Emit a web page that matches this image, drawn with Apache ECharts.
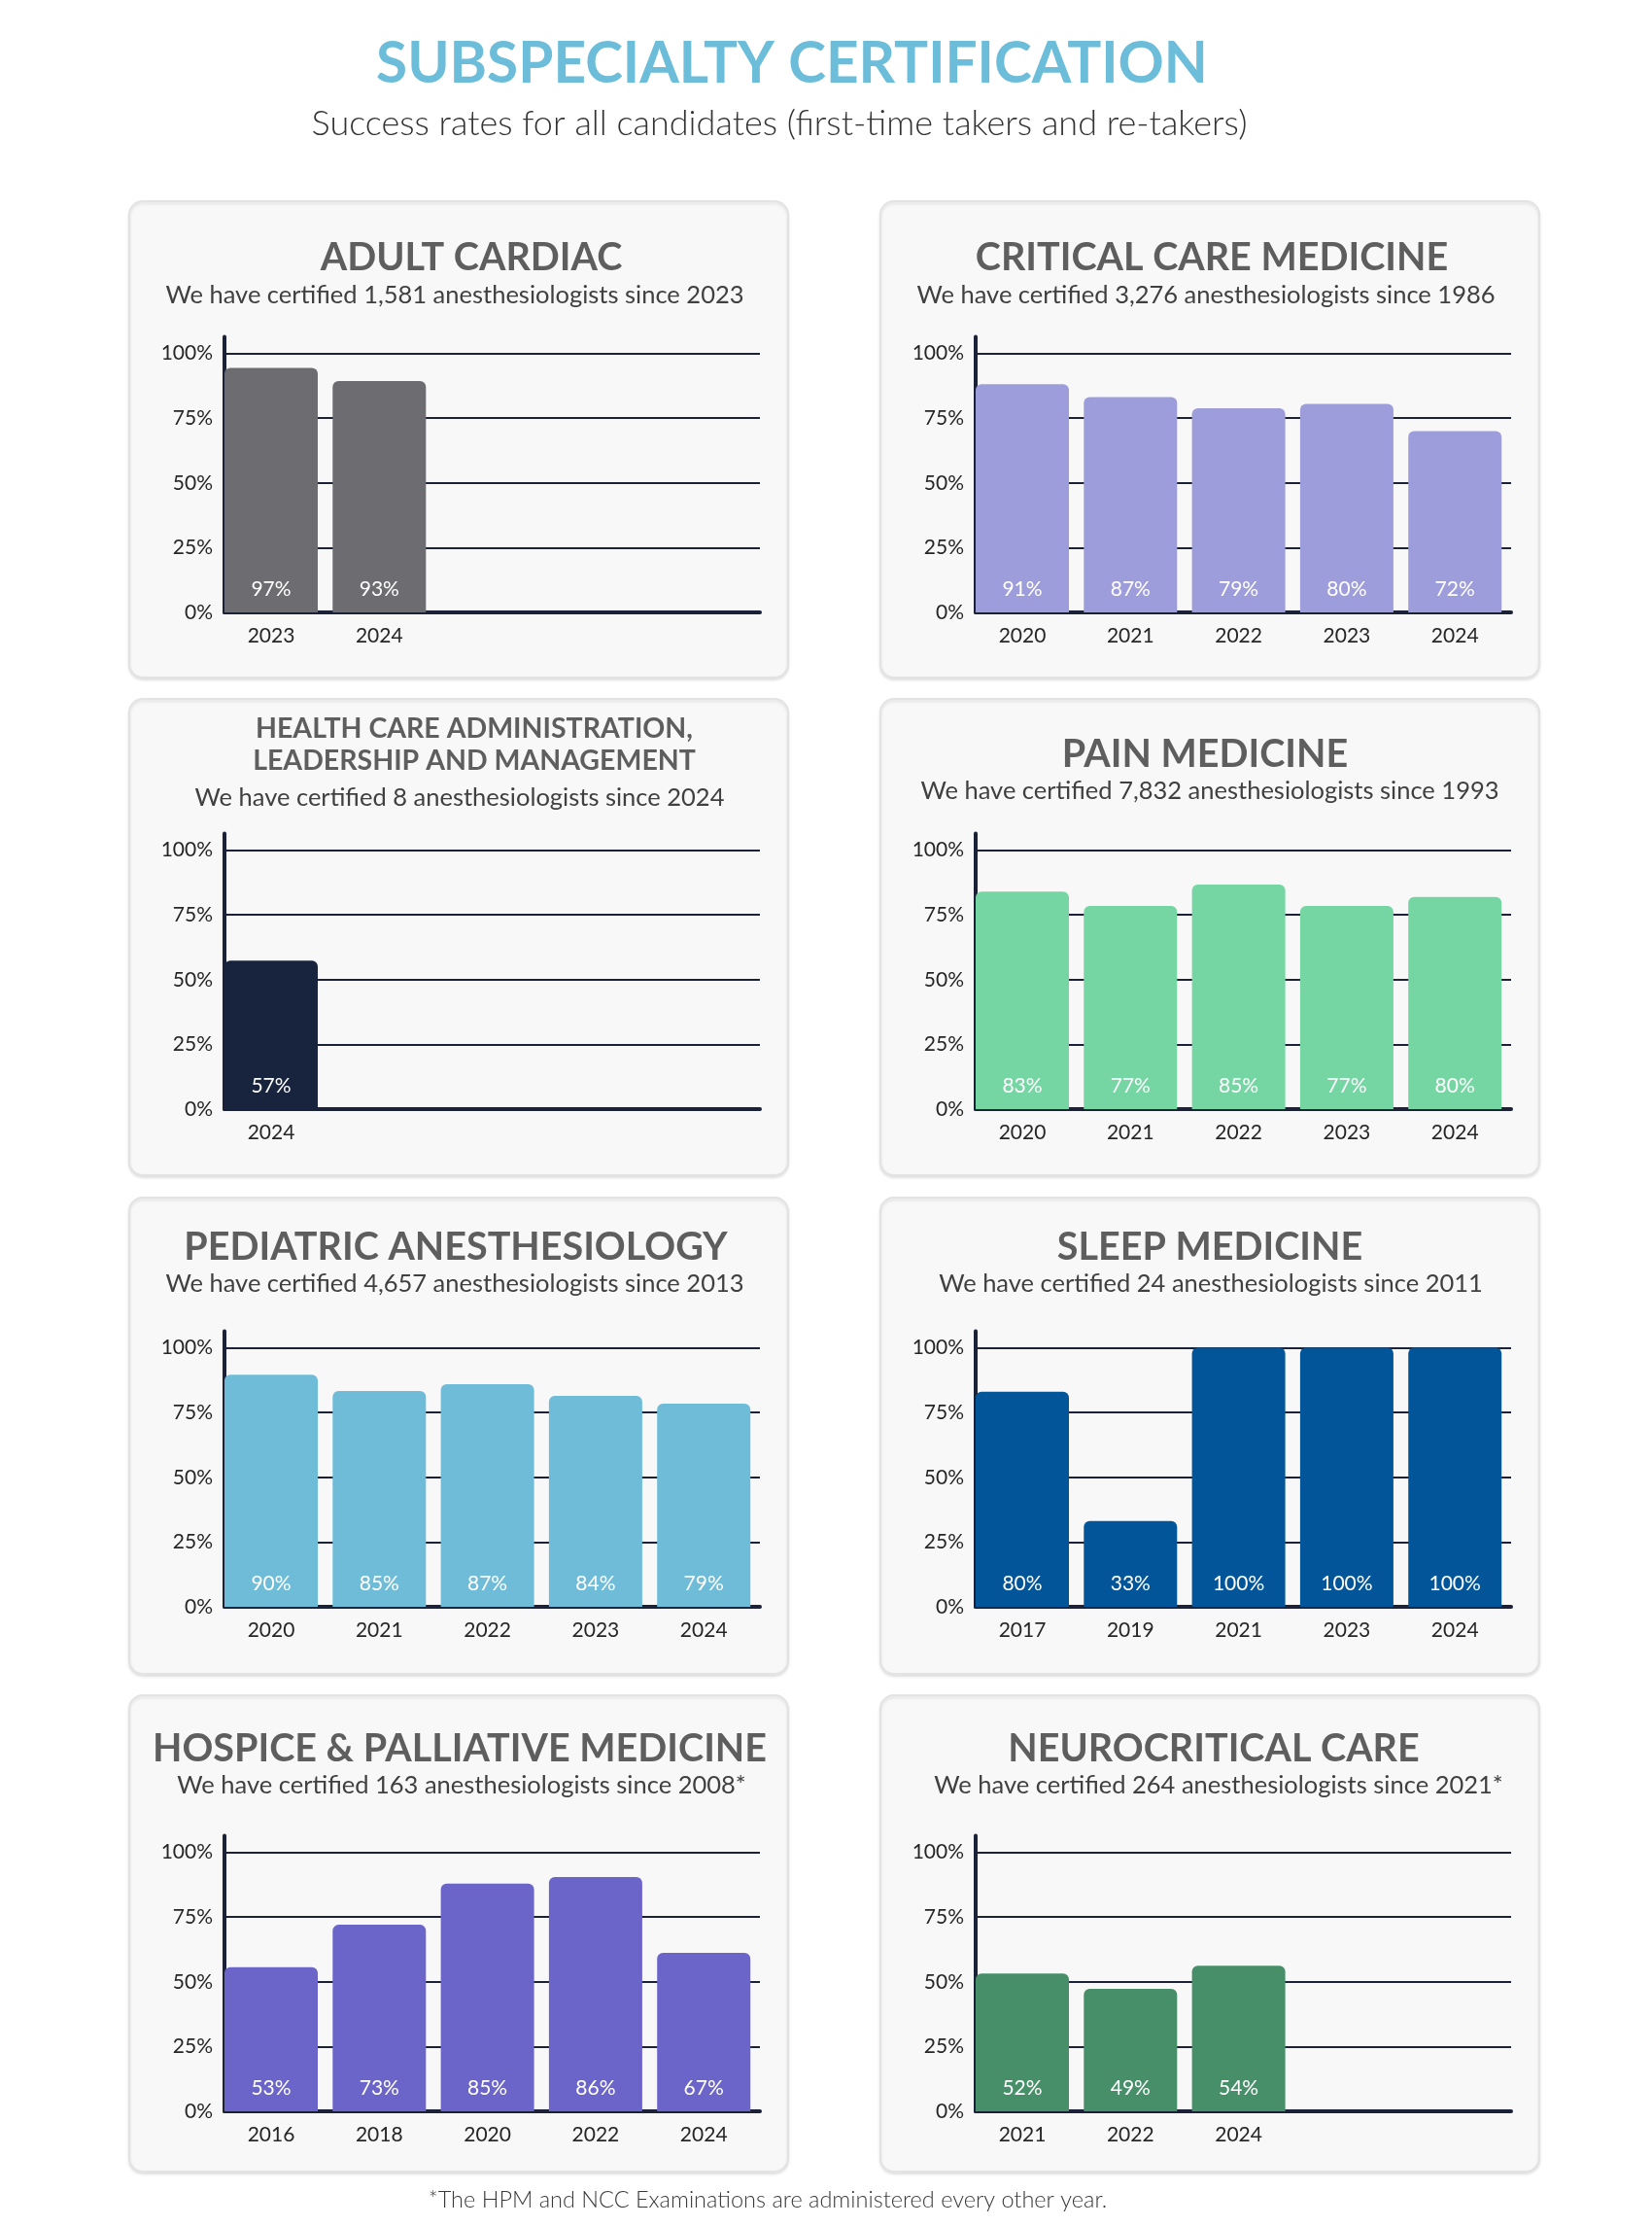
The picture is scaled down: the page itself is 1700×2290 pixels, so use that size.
<!DOCTYPE html>
<html>
<head>
<meta charset="utf-8">
<script src="https://cdn.jsdelivr.net/npm/echarts@6/dist/echarts.min.js"></script>
<style>
  html, body { margin: 0; padding: 0; background: #ffffff; }
  #chart { width: 1700px; height: 2290px; }
</style>
</head>
<body>
<div id="chart"></div>
<script>
// ---------------- DATA ----------------
const pageTitle = 'SUBSPECIALTY CERTIFICATION';
const pageSubtitle = 'Success rates for all candidates (first-time takers and re-takers)';
const footnote = '*The HPM and NCC Examinations are administered every other year.';

const yTickValues = [0, 25, 50, 75, 100];

const adultCardiacTitle = ['ADULT CARDIAC'];
const adultCardiacSub = 'We have certified 1,581 anesthesiologists since 2023';
const adultCardiacYears = ['2023', '2024'];
const adultCardiacBars = [94.4, 89.3];
const adultCardiacLabels = ['97%', '93%'];

const criticalCareTitle = ['CRITICAL CARE MEDICINE'];
const criticalCareSub = 'We have certified 3,276 anesthesiologists since 1986';
const criticalCareYears = ['2020', '2021', '2022', '2023', '2024'];
const criticalCareBars = [88.1, 83.1, 78.8, 80.5, 70.0];
const criticalCareLabels = ['91%', '87%', '79%', '80%', '72%'];

const hcaTitle = ['HEALTH CARE ADMINISTRATION,', 'LEADERSHIP AND MANAGEMENT'];
const hcaSub = 'We have certified 8 anesthesiologists since 2024';
const hcaYears = ['2024'];
const hcaBars = [57.3];
const hcaLabels = ['57%'];

const painTitle = ['PAIN MEDICINE'];
const painSub = 'We have certified 7,832 anesthesiologists since 1993';
const painYears = ['2020', '2021', '2022', '2023', '2024'];
const painBars = [84.0, 78.4, 86.7, 78.4, 81.9];
const painLabels = ['83%', '77%', '85%', '77%', '80%'];

const pediatricTitle = ['PEDIATRIC ANESTHESIOLOGY'];
const pediatricSub = 'We have certified 4,657 anesthesiologists since 2013';
const pediatricYears = ['2020', '2021', '2022', '2023', '2024'];
const pediatricBars = [89.6, 83.3, 85.9, 81.4, 78.4];
const pediatricLabels = ['90%', '85%', '87%', '84%', '79%'];

const sleepTitle = ['SLEEP MEDICINE'];
const sleepSub = 'We have certified 24 anesthesiologists since 2011';
const sleepYears = ['2017', '2019', '2021', '2023', '2024'];
const sleepBars = [83.0, 33.1, 100, 100, 100];
const sleepLabels = ['80%', '33%', '100%', '100%', '100%'];

const hospiceTitle = ['HOSPICE & PALLIATIVE MEDICINE'];
const hospiceSub = 'We have certified 163 anesthesiologists since 2008*';
const hospiceYears = ['2016', '2018', '2020', '2022', '2024'];
const hospiceBars = [55.6, 72.0, 87.9, 90.4, 61.2];
const hospiceLabels = ['53%', '73%', '85%', '86%', '67%'];

const neuroTitle = ['NEUROCRITICAL CARE'];
const neuroSub = 'We have certified 264 anesthesiologists since 2021*';
const neuroYears = ['2021', '2022', '2024'];
const neuroBars = [53.2, 47.3, 56.2];
const neuroLabels = ['52%', '49%', '54%'];

// ---------------- LAYOUT / STYLE ----------------
const FONT = 'Lato, "Noto Sans", sans-serif';
const AXIS_COLOR = '#1B2238';
const cols = [
  { panelX: 133, center: 472, gridLeft: 231 },
  { panelX: 906, center: 1245, gridLeft: 1004 }
];
const rows = [
  { panelTop: 207, zero: 630, titleY: [265], subY: 304 },
  { panelTop: 719, zero: 1141, titleY: [750, 783], subY: 821, altTitleY: [776], altSubY: 814 },
  { panelTop: 1232, zero: 1653, titleY: [1283], subY: 1321 },
  { panelTop: 1744, zero: 2172, titleY: [1799], subY: 1837 }
];
const PANEL_W = 678, PANEL_H = 490;
const GRID_W = 551;
const Y_MAX = 106.4;
const PX_PER_PCT = 2.665;
const GRID_H = Y_MAX * PX_PER_PCT;
const SLOT_PX = 111.3;          // distance between bar centres
const BAR_PX = 96;              // bar width
const X_MIN = -(BAR_PX / 2) / SLOT_PX;
const X_MAX = X_MIN + GRID_W / SLOT_PX;

const panels = [
  { title: adultCardiacTitle, sub: adultCardiacSub, years: adultCardiacYears, bars: adultCardiacBars, labels: adultCardiacLabels, color: '#6D6C71', row: 0, col: 0, tdx: 13, sdx: -4 },
  { title: criticalCareTitle, sub: criticalCareSub, years: criticalCareYears, bars: criticalCareBars, labels: criticalCareLabels, color: '#9E9DDB', row: 0, col: 1, tdx: 2, sdx: -4 },
  { title: hcaTitle, sub: hcaSub, years: hcaYears, bars: hcaBars, labels: hcaLabels, color: '#18233D', row: 1, col: 0, tdx: 16, sdx: 1 },
  { title: painTitle, sub: painSub, years: painYears, bars: painBars, labels: painLabels, color: '#75D5A3', row: 1, col: 1, tdx: -5, sdx: 0 },
  { title: pediatricTitle, sub: pediatricSub, years: pediatricYears, bars: pediatricBars, labels: pediatricLabels, color: '#6FBCD8', row: 2, col: 0, tdx: -3, sdx: -4 },
  { title: sleepTitle, sub: sleepSub, years: sleepYears, bars: sleepBars, labels: sleepLabels, color: '#03559A', row: 2, col: 1, tdx: 0, sdx: 1 },
  { title: hospiceTitle, sub: hospiceSub, years: hospiceYears, bars: hospiceBars, labels: hospiceLabels, color: '#6B65CA', row: 3, col: 0, tdx: 1, sdx: 3 },
  { title: neuroTitle, sub: neuroSub, years: neuroYears, bars: neuroBars, labels: neuroLabels, color: '#478F69', row: 3, col: 1, tdx: 4, sdx: 9 }
];

// ---------------- BUILD OPTION ----------------
const grids = [], xAxes = [], yAxes = [], series = [];
const graphics = [];

graphics.push({
  type: 'text', x: 815, y: 66, z: 10,
  style: { text: pageTitle, font: 'bold 58.5px ' + FONT, fill: '#6CBDDA', textAlign: 'center', textVerticalAlign: 'middle' }
});
graphics.push({
  type: 'text', x: 802, y: 127, z: 10,
  style: { text: pageSubtitle, font: '300 36px ' + FONT, fill: '#333333', textAlign: 'center', textVerticalAlign: 'middle' }
});
graphics.push({
  type: 'text', x: 790, y: 2263, z: 10,
  style: { text: footnote, font: '300 23.5px ' + FONT, fill: '#3A3A3A', textAlign: 'center', textVerticalAlign: 'middle' }
});

panels.forEach((p, i) => {
  const c = cols[p.col], r = rows[p.row];
  graphics.push({
    type: 'rect', z: -10,
    shape: { x: c.panelX, y: r.panelTop, width: PANEL_W, height: PANEL_H, r: 14 },
    style: { fill: '#F8F8F8', stroke: '#E3E3E3', lineWidth: 2, shadowBlur: 3, shadowColor: 'rgba(0,0,0,0.10)', shadowOffsetY: 2 }
  });
  let tY = r.titleY, sY = r.subY;
  if (p.title.length === 1 && r.altTitleY) { tY = r.altTitleY; sY = r.altSubY; }
  const titleSize = p.title.length > 1 ? 28.5 : 39.5;
  p.title.forEach((line, k) => {
    graphics.push({
      type: 'text', x: c.center + p.tdx, y: tY[k], z: 10,
      style: { text: line, font: 'bold ' + titleSize + 'px ' + FONT, fill: '#5E5E5E', textAlign: 'center', textVerticalAlign: 'middle' }
    });
  });
  graphics.push({
    type: 'text', x: c.center + p.sdx, y: sY, z: 10,
    style: { text: p.sub, font: '25.5px ' + FONT, fill: '#404040', textAlign: 'center', textVerticalAlign: 'middle' }
  });

  grids.push({ left: c.gridLeft, top: r.zero - GRID_H, width: GRID_W, height: GRID_H, containLabel: false });
  xAxes.push({
    type: 'value', gridIndex: i, min: X_MIN, max: X_MAX,
    axisLine: { show: true, onZero: false, lineStyle: { color: AXIS_COLOR, width: 4 } },
    axisTick: { show: false },
    axisLabel: {
      color: '#262626', fontSize: 21, fontFamily: FONT, margin: 14,
      customValues: p.years.map((y, k) => k),
      formatter: (v) => p.years[Math.round(v)]
    },
    splitLine: { show: false }
  });
  yAxes.push({
    type: 'value', gridIndex: i, min: 0, max: Y_MAX, interval: 25,
    axisLine: { show: true, onZero: false, lineStyle: { color: AXIS_COLOR, width: 4 } },
    axisTick: { show: false },
    axisLabel: {
      color: '#262626', fontSize: 21, fontFamily: FONT, margin: 12,
      customValues: yTickValues,
      formatter: '{value}%'
    },
    splitLine: { show: true, showMaxLine: false, showMinLine: false, lineStyle: { color: AXIS_COLOR, width: 2 } }
  });
  series.push({
    type: 'bar', xAxisIndex: i, yAxisIndex: i,
    data: p.bars.map((v, k) => [k, v]),
    barWidth: BAR_PX,
    itemStyle: { color: p.color, borderRadius: [6, 6, 0, 0] },
    label: {
      show: true, position: 'insideBottom', distance: 13,
      color: '#FFFFFF', fontSize: 21, fontFamily: FONT,
      formatter: (params) => p.labels[params.dataIndex]
    },
    silent: true, animation: false
  });
});

const chart = echarts.init(document.getElementById('chart'), null, { renderer: 'canvas' });
chart.setOption({
  animation: false,
  backgroundColor: '#ffffff',
  grid: grids,
  xAxis: xAxes,
  yAxis: yAxes,
  series: series,
  graphic: graphics
});
</script>
</body>
</html>
